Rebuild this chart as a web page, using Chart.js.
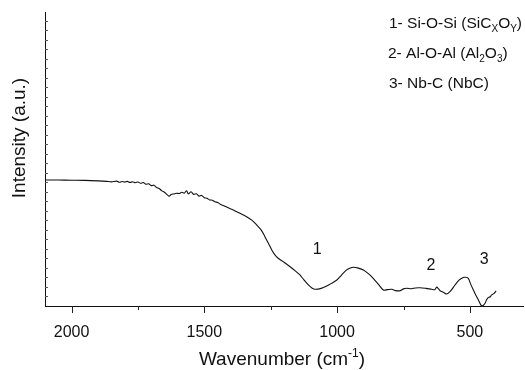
<!DOCTYPE html>
<html>
<head>
<meta charset="utf-8">
<script src="https://cdn.jsdelivr.net/npm/chart.js@4.4.1/dist/chart.umd.min.js"></script>
<style>
  html, body { margin: 0; padding: 0; background: #fff; }
  #wrap { width: 525px; height: 370px; position: relative; }
</style>
</head>
<body>
<div id="wrap"><canvas id="c" width="525" height="370"></canvas></div>
<script>
// ---- data ----
const wavenumbers = [2100,2050,2000,1950,1900,1868,1850,1830,1820,1810,1800,1790,1780,1770,1760,1750,1740,1730,1720,1710,1700,1690,1680,1670,1660,1650,1640,1632,1625,1615,1605,1595,1585,1575,1567,1560,1550,1540,1530,1520,1510,1500,1490,1480,1470,1460,1450,1440,1420,1400,1391,1366,1341,1320,1303,1285,1272,1258,1246,1235,1222,1200,1177,1160,1140,1125,1108,1095,1083,1060,1039,1020,1001,985,964,950,939,920,901,880,864,845,826,810,794,780,763,750,738,720,705,688,665,644,632,625,618,612,600,587,575,556,540,525,518,506,497,487,478,468,456,448,443,436,430,424,418,410,401];
const intensity = [13.25,13.24,13.22,13.2,13.15,13.1,13.05,13.12,13.0,13.08,13.02,13.1,12.98,13.06,12.96,13.04,12.9,12.98,12.8,12.85,12.65,12.7,12.45,12.35,12.1,11.95,11.7,11.55,11.72,11.78,11.85,11.82,11.95,11.86,12.12,11.78,12.0,11.72,11.8,11.55,11.62,11.38,11.32,11.15,11.12,10.95,10.88,10.7,10.45,10.2,10.09,9.75,9.39,9.0,8.52,7.95,7.29,6.55,5.89,5.4,5.02,4.6,4.13,3.75,3.26,2.75,2.21,1.9,1.76,1.85,2.1,2.4,2.73,3.2,3.79,4.0,4.07,3.98,3.79,3.35,2.91,2.3,1.68,1.72,1.76,1.62,1.61,1.8,1.86,1.82,1.9,1.92,1.85,1.76,1.72,1.98,1.8,1.61,1.45,1.26,1.5,2.21,2.75,3.0,3.02,2.91,2.3,1.68,1.15,0.63,0.0,0.1,0.28,0.7,0.91,0.95,1.16,1.3,1.58];

const xMin = 300, xMax = 2100;
const xTickLabels = [2000, 1500, 1000, 500];
const xMinorTicks = [1750, 1250, 750];
const yMin = 0, yMax = 30.9;

const peakLabels = ['1', '2', '3'];
const peakX = [1075, 647, 446];
const peakY = [5.9, 4.2, 4.85];

// legend entries: pieces [text, 'n' normal | 's' subscript]
const legendEntries = [
  [['1- Si-O-Si (SiC','n'],['X','s'],['O','n'],['Y','s'],[')','n']],
  [['2- Al-O-Al (Al','n'],['2','s'],['O','n'],['3','s'],[')','n']],
  [['3- Nb-C (NbC)','n']]
];

const xTitle = [['Wavenumber (cm','n'],['-1','u'],[')','n']];
const yTitle = 'Intensity (a.u.)';

const FONT = '"Liberation Sans", Arial, Helvetica, sans-serif';

const points = wavenumbers.map((w, i) => ({ x: w, y: intensity[i] }));

function drawPieces(ctx, pieces, x, y, size) {
  let cx = x;
  for (const [t, kind] of pieces) {
    if (kind === 'n') {
      ctx.font = size + 'px ' + FONT;
      ctx.fillText(t, cx, y);
      cx += ctx.measureText(t).width;
    } else if (kind === 's') {
      const s = Math.round(size * 0.62);
      ctx.font = s + 'px ' + FONT;
      ctx.fillText(t, cx, y + size * 0.28);
      cx += ctx.measureText(t).width;
    } else {
      const s = Math.round(size * 0.62);
      ctx.font = s + 'px ' + FONT;
      ctx.fillText(t, cx, y - size * 0.42);
      cx += ctx.measureText(t).width;
    }
  }
  return cx - x;
}
function measurePieces(ctx, pieces, size) {
  let w = 0;
  for (const [t, kind] of pieces) {
    const s = kind === 'n' ? size : Math.round(size * 0.62);
    ctx.font = s + 'px ' + FONT;
    w += ctx.measureText(t).width;
  }
  return w;
}

const decorPlugin = {
  id: 'decor',
  afterDraw(chart) {
    const ctx = chart.ctx;
    const xs = chart.scales.x, ys = chart.scales.y;
    const area = chart.chartArea;
    ctx.save();
    ctx.strokeStyle = '#222';
    ctx.lineWidth = 1;
    // x ticks (outward)
    ctx.beginPath();
    for (const v of xTickLabels) {
      const px = Math.round(xs.getPixelForValue(v)) + 0.5;
      ctx.moveTo(px, area.bottom); ctx.lineTo(px, area.bottom + 7);
    }
    for (const v of xMinorTicks) {
      const px = Math.round(xs.getPixelForValue(v)) + 0.5;
      ctx.moveTo(px, area.bottom); ctx.lineTo(px, area.bottom + 4);
    }
    ctx.stroke();
    // y ticks (inward)
    ctx.beginPath();
    ctx.strokeStyle = '#555';
    for (let v = 1; v <= Math.floor(yMax); v++) {
      const py = Math.round(ys.getPixelForValue(v)) + 0.5;
      ctx.moveTo(area.left, py); ctx.lineTo(area.left + 3, py);
    }
    ctx.stroke();

    ctx.fillStyle = '#111';
    ctx.textBaseline = 'middle';
    ctx.textAlign = 'center';
    // x tick labels
    ctx.font = '16px ' + FONT;
    for (const v of xTickLabels) {
      ctx.fillText(String(v), xs.getPixelForValue(v), 333);
    }
    // peak labels
    ctx.font = '16px ' + FONT;
    peakLabels.forEach((t, i) => {
      ctx.fillText(t, xs.getPixelForValue(peakX[i]), ys.getPixelForValue(peakY[i]));
    });
    // legend text
    ctx.textAlign = 'left';
    ctx.textBaseline = 'alphabetic';
    const legY = [27.5, 58, 87.5];
    const legX = [389, 388, 389];
    legendEntries.forEach((p, i) => drawPieces(ctx, p, legX[i], legY[i], 15.5));
    // x title
    const tw = measurePieces(ctx, xTitle, 19);
    drawPieces(ctx, xTitle, 282 - tw / 2, 365, 19);
    // y title
    ctx.save();
    ctx.translate(25, 138);
    ctx.rotate(-Math.PI / 2);
    ctx.textAlign = 'center';
    ctx.font = '19px ' + FONT;
    ctx.fillText(yTitle, 0, 0);
    ctx.restore();
    ctx.restore();
  }
};

new Chart(document.getElementById('c'), {
  type: 'line',
  data: {
    datasets: [{
      data: points,
      borderColor: '#111',
      borderWidth: 1.1,
      pointRadius: 0,
      tension: 0.3,
      fill: false
    }]
  },
  options: {
    responsive: false,
    animation: false,
    events: [],
    layout: { padding: { top: 12, right: 2, left: 0, bottom: 0 } },
    plugins: { legend: { display: false }, tooltip: { enabled: false } },
    scales: {
      x: {
        type: 'linear',
        reverse: true,
        min: xMin, max: xMax,
        afterFit(scale) { scale.height = 64; },
        grid: { display: false, drawTicks: false },
        border: { display: true, color: '#111', width: 1 },
        ticks: { display: false, stepSize: 250 }
      },
      y: {
        type: 'linear',
        min: yMin, max: yMax,
        afterFit(scale) { scale.width = 45; },
        grid: { display: false, drawTicks: false },
        border: { display: true, color: '#111', width: 1 },
        ticks: { display: false, stepSize: 1 }
      }
    }
  },
  plugins: [decorPlugin]
});
</script>
</body>
</html>
